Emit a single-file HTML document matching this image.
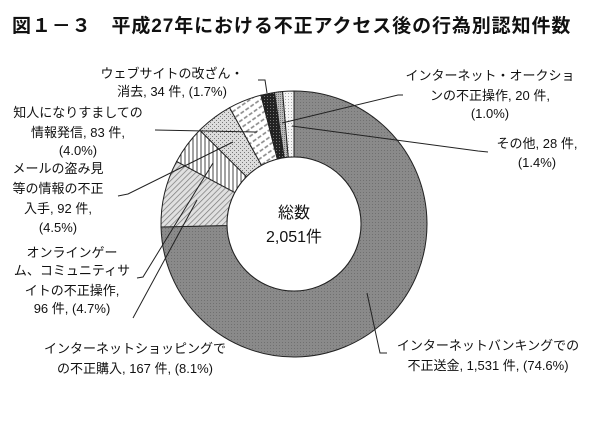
<!DOCTYPE html>
<html><head><meta charset="utf-8">
<style>
html,body{margin:0;padding:0;background:#fff;}
svg{display:block;}
text{font-family:"Liberation Sans","Noto Sans CJK JP",sans-serif;fill:#111;}
</style></head>
<body>
<svg id="s" width="600" height="423" viewBox="0 0 600 423" xmlns="http://www.w3.org/2000/svg">
<defs>
<pattern id="pBank" width="3" height="3" patternUnits="userSpaceOnUse"><rect width="3" height="3" fill="#8a8a8a"/><rect width="1" height="1" fill="#707070"/></pattern>
<pattern id="pShop" width="4" height="4" patternUnits="userSpaceOnUse" patternTransform="rotate(45)"><rect width="4" height="4" fill="#e0e0e0"/><line x1="0" y1="0" x2="0" y2="4" stroke="#777" stroke-width="1.4"/></pattern>
<pattern id="pGame" width="4" height="4" patternUnits="userSpaceOnUse"><rect width="4" height="4" fill="#fff"/><line x1="1" y1="0" x2="1" y2="4" stroke="#444" stroke-width="1"/></pattern>
<pattern id="pMail" width="4" height="4" patternUnits="userSpaceOnUse"><rect width="4" height="4" fill="#dcdcdc"/><rect width="1" height="1" fill="#777"/><rect x="2" y="2" width="1" height="1" fill="#777"/></pattern>
<pattern id="pInfo" width="6" height="6" patternUnits="userSpaceOnUse" patternTransform="rotate(-35)"><rect width="6" height="6" fill="#fff"/><line x1="0" y1="3" x2="6" y2="3" stroke="#888" stroke-width="1.6" stroke-dasharray="4 2"/></pattern>
<pattern id="pWeb" width="3" height="3" patternUnits="userSpaceOnUse"><rect width="3" height="3" fill="#222"/><rect width="1" height="1" fill="#777"/></pattern>
<pattern id="pAuc" width="2" height="2" patternUnits="userSpaceOnUse"><rect width="2" height="2" fill="#bbb"/><rect width="1" height="1" fill="#777"/></pattern>
<pattern id="pOth" width="3" height="3" patternUnits="userSpaceOnUse"><rect width="3" height="3" fill="#f4f4f4"/><rect width="1" height="1" fill="#aaa"/></pattern>
</defs>
<text x="12" y="32" font-size="19" font-weight="bold" letter-spacing="0.9" fill="#000">図１－３　平成27年における不正アクセス後の行為別認知件数</text>
<g id="ring"></g>
<circle cx="294" cy="224" r="67" fill="#fff" stroke="#222" stroke-width="1"/>
<text x="294" y="218" font-size="16" text-anchor="middle">総数</text>
<text x="294" y="242" font-size="16" text-anchor="middle">2,051件</text>
<g stroke="#222" stroke-width="1" fill="none">
<polyline points="258,80 265,80 267,93"/>
<polyline points="403,95 398,95 282,123"/>
<polyline points="488,152 478,151 292,126"/>
<polyline points="155,130 257,132"/>
<polyline points="118,196 128,194 233,142"/>
<polyline points="137,278 143,277 213,163"/>
<polyline points="133,318 197,200"/>
<polyline points="387,353 380,353 367,293"/>
</g>
<g font-size="13" text-anchor="middle">
<text x="172" y="78">ウェブサイトの改ざん・</text>
<text x="172" y="96">消去, 34 件, (1.7%)</text>
<text x="78" y="117">知人になりすましての</text>
<text x="78" y="137">情報発信, 83 件,</text>
<text x="78" y="155">(4.0%)</text>
<text x="58" y="173">メールの盗み見</text>
<text x="58" y="193">等の情報の不正</text>
<text x="58" y="213">入手, 92 件,</text>
<text x="58" y="232">(4.5%)</text>
<text x="72" y="257">オンラインゲー</text>
<text x="72" y="275">ム、コミュニティサ</text>
<text x="72" y="295">イトの不正操作,</text>
<text x="72" y="313">96 件, (4.7%)</text>
<text x="135" y="353">インターネットショッピングで</text>
<text x="135" y="373">の不正購入, 167 件, (8.1%)</text>
<text x="490" y="80">インターネット・オークショ</text>
<text x="490" y="100">ンの不正操作, 20 件,</text>
<text x="490" y="118">(1.0%)</text>
<text x="537" y="148">その他, 28 件,</text>
<text x="537" y="167">(1.4%)</text>
<text x="488" y="350">インターネットバンキングでの</text>
<text x="488" y="370">不正送金, 1,531 件, (74.6%)</text>
</g>
</svg>
<script>
var cx=294,cy=224,R=133,r=67;
var d=[[1531,'pBank'],[167,'pShop'],[96,'pGame'],[92,'pMail'],[83,'pInfo'],[34,'pWeb'],[20,'pAuc'],[28,'pOth']];
var tot=0;d.forEach(function(x){tot+=x[0];});
var a=0,g=document.getElementById('ring'),h='';
function pt(rad,ang){return [cx+rad*Math.sin(ang),cy-rad*Math.cos(ang)];}
d.forEach(function(x){
 var a2=a+x[0]/tot*2*Math.PI,lg=(a2-a)>Math.PI?1:0;
 var p1=pt(R,a),p2=pt(R,a2),p3=pt(r,a2),p4=pt(r,a);
 h+='<path d="M'+p1+' A'+R+','+R+' 0 '+lg+' 1 '+p2+' L'+p3+' A'+r+','+r+' 0 '+lg+' 0 '+p4+' Z" fill="url(#'+x[1]+')" stroke="#222" stroke-width="1"/>';
 a=a2;});
g.innerHTML=h;
</script>
</body></html>
